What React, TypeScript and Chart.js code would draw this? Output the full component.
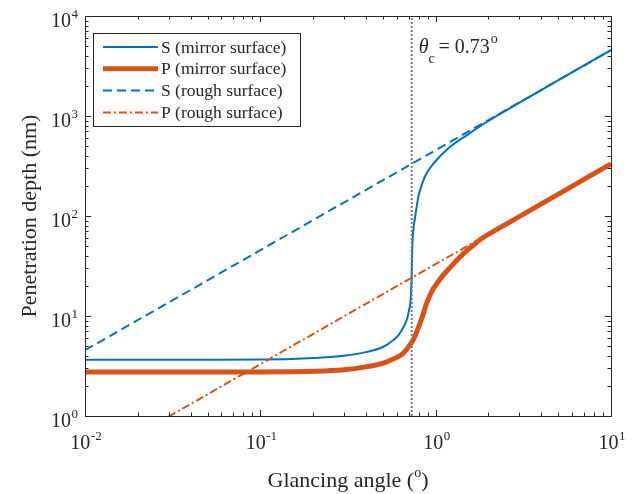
import React, { useEffect, useRef } from "react";
import { Chart, registerables } from "chart.js";

Chart.register(...registerables);

// Glancing angle (deg) and penetration depth (nm) for each curve
const angleSMirror = [0.01, 0.05, 0.1, 0.15, 0.2, 0.3, 0.4, 0.5, 0.575, 0.62, 0.657, 0.69, 0.705, 0.716, 0.724, 0.729, 0.733, 0.736, 0.745, 0.765, 0.798, 0.816, 0.87, 0.969, 1.2, 1.5, 1.85, 2.84, 4.4, 10];
const depthSMirror = [3.65, 3.66, 3.68, 3.72, 3.8, 4.0, 4.35, 4.9, 5.75, 6.6, 7.8, 9.6, 11.5, 13.1, 17, 24, 35, 50, 70, 100, 158, 183, 250, 332, 486, 640, 819, 1282, 2006, 4565];

const anglePMirror = [0.01, 0.1, 0.2, 0.3, 0.4, 0.503, 0.58, 0.653, 0.7, 0.743, 0.765, 0.79, 0.812, 0.85, 0.883, 0.92, 0.96, 1.006, 1.1, 1.197, 1.476, 1.65, 1.83, 2.3, 2.83, 4.76, 10];
const depthPMirror = [2.75, 2.76, 2.8, 2.9, 3.1, 3.38, 3.75, 4.24, 4.9, 5.72, 6.4, 7.4, 8.35, 10.5, 13.1, 15.6, 18.2, 20.6, 25.5, 30, 43.7, 51.5, 59.5, 75.5, 93, 157, 332];

const angleSRough = [0.01, 0.1, 0.507, 0.738, 2, 10];
const depthSRough = [4.55, 45.5, 231, 336, 910, 4560];

const anglePRough = [0.01, 0.0304, 0.1, 0.507, 2, 10];
const depthPRough = [0.33, 1.0, 3.3, 16.8, 66, 332];

const criticalAngle = 0.73;
const depthRange = [1, 10000];

const xTickExponents = [-2, -1, 0, 1];
const yTickExponents = [0, 1, 2, 3, 4];

const seriesLabels = ["S (mirror surface)", "P (mirror surface)", "S (rough surface)", "P (rough surface)"];

const BLUE = "#0072BD";
const ORANGE = "#D95319";
const INK = "#262626";
const SERIF = '"Liberation Serif", "Times New Roman", serif';

const toPoints = (xs: number[], ys: number[]) => xs.map((x, i) => ({ x, y: ys[i] }));

function drawPow(ctx: CanvasRenderingContext2D, x: number, y: number, exp: string, align: "center" | "right") {
  ctx.font = `20px ${SERIF}`;
  const bw = ctx.measureText("10").width;
  ctx.font = `13px ${SERIF}`;
  const ew = ctx.measureText(exp).width;
  const total = bw + ew + 0.5;
  const x0 = align === "center" ? x - total / 2 : x - total;
  ctx.textAlign = "left";
  ctx.textBaseline = "alphabetic";
  ctx.font = `20px ${SERIF}`;
  ctx.fillText("10", x0, y);
  ctx.font = `13px ${SERIF}`;
  ctx.fillText(exp, x0 + bw + 0.5, y - 9);
}

const decorations = {
  id: "decorations",
  afterDraw(chart: any) {
    const ctx: CanvasRenderingContext2D = chart.ctx;
    const { left, right, top, bottom } = chart.chartArea;
    const xs = chart.scales.x;
    const ys = chart.scales.y;
    ctx.save();

    // axes box
    ctx.strokeStyle = INK;
    ctx.lineWidth = 1;
    ctx.setLineDash([]);
    ctx.strokeRect(Math.round(left) + 0.5, Math.round(top) + 0.5, Math.round(right - left), Math.round(bottom - top));

    // inward ticks on all four sides
    ctx.beginPath();
    for (let d = -2; d <= 1; d++) {
      for (let m = 1; m <= 9; m++) {
        const v = m * Math.pow(10, d);
        if (v > 10.0001) break;
        const px = Math.round(xs.getPixelForValue(v)) + 0.5;
        const len = m === 1 ? 6 : 3.5;
        ctx.moveTo(px, bottom); ctx.lineTo(px, bottom - len);
        ctx.moveTo(px, top); ctx.lineTo(px, top + len);
      }
    }
    for (let d = 0; d <= 4; d++) {
      for (let m = 1; m <= 9; m++) {
        const v = m * Math.pow(10, d);
        if (v > 10000.001) break;
        const py = Math.round(ys.getPixelForValue(v)) + 0.5;
        const len = m === 1 ? 6 : 3.5;
        ctx.moveTo(left, py); ctx.lineTo(left + len, py);
        ctx.moveTo(right, py); ctx.lineTo(right - len, py);
      }
    }
    ctx.stroke();

    // tick labels
    ctx.fillStyle = INK;
    xTickExponents.forEach((e) => {
      const px = xs.getPixelForValue(Math.pow(10, e));
      drawPow(ctx, px + 1, bottom + 33, String(e), "center");
    });
    yTickExponents.forEach((e) => {
      const py = ys.getPixelForValue(Math.pow(10, e));
      drawPow(ctx, left - 7, py + 11, String(e), "right");
    });

    // x axis title with superscript degree mark
    ctx.font = `22px ${SERIF}`;
    const t1 = "Glancing angle (";
    const t2 = ")";
    const w1 = ctx.measureText(t1).width;
    const w2 = ctx.measureText(t2).width;
    ctx.font = `14px ${SERIF}`;
    const wo = ctx.measureText("o").width;
    const tw = w1 + wo + w2;
    const tx = (left + right) / 2 - tw / 2;
    const tyb = 487;
    ctx.textAlign = "left";
    ctx.textBaseline = "alphabetic";
    ctx.font = `22px ${SERIF}`;
    ctx.fillText(t1, tx, tyb);
    ctx.font = `14px ${SERIF}`;
    ctx.fillText("o", tx + w1, tyb - 10);
    ctx.font = `22px ${SERIF}`;
    ctx.fillText(t2, tx + w1 + wo, tyb);

    // y axis title
    ctx.save();
    ctx.translate(30, (top + bottom) / 2);
    ctx.rotate(-Math.PI / 2);
    ctx.textAlign = "center";
    ctx.textBaseline = "middle";
    ctx.font = `22px ${SERIF}`;
    ctx.fillText("Penetration depth (nm)", 0, 0);
    ctx.restore();

    // critical angle annotation
    const ax = xs.getPixelForValue(criticalAngle) + 7;
    const ab = 53;
    ctx.textAlign = "left";
    ctx.textBaseline = "alphabetic";
    ctx.font = `italic 20px ${SERIF}`;
    ctx.fillText("\u03b8", ax, ab);
    const thw = ctx.measureText("\u03b8").width;
    ctx.font = `14px ${SERIF}`;
    ctx.fillText("c", ax + thw, ab + 10);
    ctx.font = `20px ${SERIF}`;
    const eqx = ax + thw + 10;
    const eqText = "= 0.73";
    ctx.fillText(eqText, eqx, ab);
    const eqw = ctx.measureText(eqText).width;
    ctx.font = `14px ${SERIF}`;
    ctx.fillText("o", eqx + eqw + 1, ab - 10);

    // legend
    const lx = 93, ly = 33, lw = 207, lh = 93;
    ctx.fillStyle = "#ffffff";
    ctx.fillRect(lx, ly, lw, lh);
    ctx.strokeStyle = INK;
    ctx.lineWidth = 1;
    ctx.strokeRect(lx + 0.5, ly + 0.5, lw, lh);
    const styles = [
      { color: BLUE, width: 2, dash: [] as number[] },
      { color: ORANGE, width: 5, dash: [] as number[] },
      { color: BLUE, width: 2, dash: [9, 5] },
      { color: ORANGE, width: 2, dash: [8, 3, 2, 3] },
    ];
    seriesLabels.forEach((label, i) => {
      const cy = 47 + i * 21.8;
      const s = styles[i];
      ctx.beginPath();
      ctx.strokeStyle = s.color;
      ctx.lineWidth = s.width;
      ctx.setLineDash(s.dash);
      ctx.moveTo(103, cy);
      ctx.lineTo(158, cy);
      ctx.stroke();
      ctx.setLineDash([]);
      ctx.fillStyle = INK;
      ctx.font = `17.5px ${SERIF}`;
      ctx.textBaseline = "middle";
      ctx.fillText(label, 161, cy + 1);
    });

    ctx.restore();
  },
};

export default function App() {
  const canvasRef = useRef<HTMLCanvasElement | null>(null);

  useEffect(() => {
    const canvas = canvasRef.current;
    if (!canvas) return;
    const chart = new Chart(canvas, {
      type: "scatter",
      data: {
        datasets: [
          {
            label: "critical angle",
            data: toPoints([criticalAngle, criticalAngle], depthRange),
            borderColor: "#7a7a7a",
            borderWidth: 2,
            borderDash: [2, 2],
            showLine: true,
            pointRadius: 0,
            order: 0,
          },
          {
            label: seriesLabels[3],
            data: toPoints(anglePRough, depthPRough),
            borderColor: ORANGE,
            borderWidth: 2,
            borderDash: [8, 3, 2, 3],
            showLine: true,
            pointRadius: 0,
            order: 1,
          },
          {
            label: seriesLabels[2],
            data: toPoints(angleSRough, depthSRough),
            borderColor: BLUE,
            borderWidth: 2,
            borderDash: [9, 5],
            showLine: true,
            pointRadius: 0,
            order: 2,
          },
          {
            label: seriesLabels[1],
            data: toPoints(anglePMirror, depthPMirror),
            borderColor: ORANGE,
            borderWidth: 5,
            showLine: true,
            pointRadius: 0,
            cubicInterpolationMode: "monotone",
            order: 3,
          },
          {
            label: seriesLabels[0],
            data: toPoints(angleSMirror, depthSMirror),
            borderColor: BLUE,
            borderWidth: 2,
            showLine: true,
            pointRadius: 0,
            cubicInterpolationMode: "monotone",
            order: 4,
          },
        ],
      },
      options: {
        responsive: false,
        animation: false,
        events: [],
        layout: { padding: { left: 77, right: 22, top: 16, bottom: 70 } },
        plugins: { legend: { display: false }, tooltip: { enabled: false } },
        scales: {
          x: {
            type: "logarithmic",
            min: 0.01,
            max: 10,
            ticks: { display: false },
            grid: { display: false },
            border: { display: false },
          },
          y: {
            type: "logarithmic",
            min: 1,
            max: 10000,
            ticks: { display: false },
            grid: { display: false },
            border: { display: false },
          },
        },
      },
      plugins: [decorations],
    });
    return () => chart.destroy();
  }, []);

  return (
    <div style={{ position: "fixed", left: 0, top: 0, width: 633, height: 494, background: "#fff" }}>
      <canvas ref={canvasRef} width={633} height={494} />
    </div>
  );
}
